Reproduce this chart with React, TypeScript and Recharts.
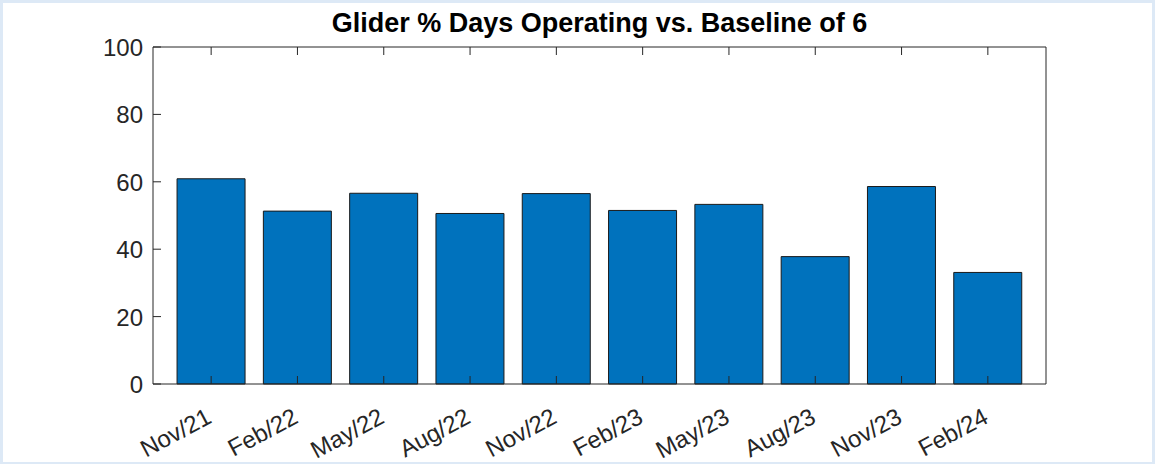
import { BarChart, Bar, XAxis, YAxis } from "recharts";

const quarters = ["Nov/21", "Feb/22", "May/22", "Aug/22", "Nov/22", "Feb/23", "May/23", "Aug/23", "Nov/23", "Feb/24"];
const percentDays = [60.9, 51.3, 56.6, 50.6, 56.5, 51.5, 53.3, 37.8, 58.6, 33.1];
const yTicks = [0, 20, 40, 60, 80, 100];

const data = quarters.map((q, i) => ({ quarter: q, pct: percentDays[i] }));

const FONT = '"Liberation Sans", Arial, Helvetica, sans-serif';
const AXIS = "#262626";
const TICK_LEN = 8;

// MATLAB-style ticks: short lines pointing into the plot, labels outside
function BottomTick({ x, y, payload }: any) {
  return (
    <g>
      <line x1={x} y1={y} x2={x} y2={y - TICK_LEN} stroke={AXIS} />
      <text
        transform={`translate(${x + 2},${y + 38}) rotate(-28)`}
        textAnchor="end"
        fontSize={24}
        fontFamily={FONT}
        fill={AXIS}
      >
        {payload.value}
      </text>
    </g>
  );
}

function TopTick({ x, y }: any) {
  return <line x1={x} y1={y} x2={x} y2={y + TICK_LEN} stroke={AXIS} />;
}

function LeftTick({ x, y, payload }: any) {
  return (
    <g>
      <line x1={x} y1={y} x2={x + TICK_LEN} y2={y} stroke={AXIS} />
      <text x={x - 10} y={y} dy={9} textAnchor="end" fontSize={24} fontFamily={FONT} fill={AXIS}>
        {payload.value}
      </text>
    </g>
  );
}

function RightTick({ x, y }: any) {
  return <line x1={x} y1={y} x2={x - TICK_LEN} y2={y} stroke={AXIS} />;
}

export default function App() {
  return (
    <div style={{ position: "absolute", left: 0, top: 0, width: 1155, height: 464, background: "#dde9f6" }}>
      <div style={{ position: "absolute", left: 3, top: 3, right: 3, bottom: 2, background: "#fff" }} />
      <div
        style={{
          position: "absolute",
          left: 153,
          top: 10,
          width: 893,
          textAlign: "center",
          fontFamily: FONT,
          fontWeight: "bold",
          fontSize: 27,
          lineHeight: "27px",
          color: "#000",
        }}
      >
        Glider % Days Operating vs. Baseline of 6
      </div>
      <div style={{ position: "absolute", left: 0, top: 0 }}>
        <BarChart
          width={1155}
          height={464}
          data={data}
          margin={{ top: 46, right: 108, left: 0, bottom: 0 }}
          barCategoryGap="10.5%"
        >
          <XAxis
            xAxisId="b"
            dataKey="quarter"
            orientation="bottom"
            height={80}
            interval={0}
            padding={{ left: 15, right: 15 }}
            tickLine={false}
            tickSize={0}
            tickMargin={0}
            tick={<BottomTick />}
            axisLine={{ stroke: AXIS }}
          />
          <XAxis
            xAxisId="t"
            dataKey="quarter"
            orientation="top"
            height={1}
            interval={0}
            padding={{ left: 15, right: 15 }}
            tickLine={false}
            tickSize={0}
            tickMargin={0}
            tick={<TopTick />}
            axisLine={{ stroke: AXIS }}
          />
          <YAxis
            yAxisId="l"
            orientation="left"
            width={153}
            type="number"
            domain={[0, 100]}
            ticks={yTicks}
            interval={0}
            tickLine={false}
            tickSize={0}
            tickMargin={0}
            tick={<LeftTick />}
            axisLine={{ stroke: AXIS }}
          />
          <YAxis
            yAxisId="r"
            orientation="right"
            width={1}
            type="number"
            domain={[0, 100]}
            ticks={yTicks}
            interval={0}
            tickLine={false}
            tickSize={0}
            tickMargin={0}
            tick={<RightTick />}
            axisLine={{ stroke: AXIS }}
          />
          <Bar
            xAxisId="b"
            yAxisId="l"
            dataKey="pct"
            fill="#0072BD"
            stroke="#1a1a1a"
            strokeWidth={1}
            isAnimationActive={false}
          />
        </BarChart>
      </div>
    </div>
  );
}
